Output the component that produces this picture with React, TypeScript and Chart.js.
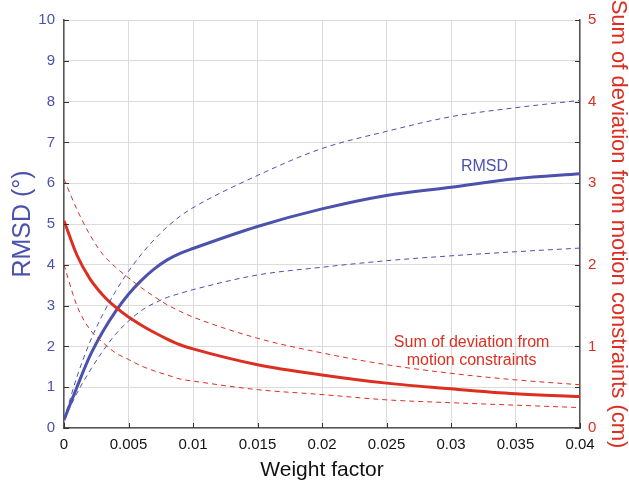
import { useEffect, useRef } from "react";
import { Chart, registerables } from "chart.js";

Chart.register(...registerables);

const weights = [0, 0.001, 0.002, 0.003, 0.004, 0.005, 0.006, 0.007, 0.008, 0.009, 0.01, 0.015, 0.02, 0.025, 0.03, 0.035, 0.04];
const rmsdMean = [0.2, 1.0, 1.76, 2.36, 2.86, 3.28, 3.62, 3.9, 4.12, 4.28, 4.4, 4.94, 5.37, 5.7, 5.9, 6.11, 6.23];
const rmsdUpper = [0.2, 1.25, 2.1, 2.78, 3.35, 3.84, 4.26, 4.62, 4.93, 5.19, 5.4, 6.19, 6.85, 7.27, 7.63, 7.85, 8.03];
const rmsdLower = [0.2, 0.85, 1.4, 1.88, 2.3, 2.62, 2.88, 3.06, 3.2, 3.3, 3.39, 3.75, 3.94, 4.1, 4.22, 4.32, 4.41];
const devMean = [2.54, 2.12, 1.83, 1.63, 1.48, 1.36, 1.26, 1.17, 1.09, 1.02, 0.97, 0.776, 0.65, 0.55, 0.48, 0.42, 0.385];
const devUpper = [3.05, 2.68, 2.37, 2.13, 1.97, 1.84, 1.72, 1.61, 1.51, 1.43, 1.36, 1.1, 0.92, 0.776, 0.67, 0.59, 0.53];
const devLower = [2.0, 1.5, 1.21, 1.05, 0.92, 0.84, 0.76, 0.7, 0.65, 0.6, 0.575, 0.47, 0.41, 0.345, 0.31, 0.28, 0.25];

const xTicks = [0, 0.005, 0.01, 0.015, 0.02, 0.025, 0.03, 0.035, 0.04];
const xTickLabels = ["0", "0.005", "0.01", "0.015", "0.02", "0.025", "0.03", "0.035", "0.04"];
const leftTicks = [0, 1, 2, 3, 4, 5, 6, 7, 8, 9, 10];
const rightTicks = [0, 1, 2, 3, 4, 5];
const rightMinorTicks = [0, 0.5, 1, 1.5, 2, 2.5, 3, 3.5, 4, 4.5, 5];

const rmsdLabel = { lines: ["RMSD"], x: 0.0326, y: 6.4 };
const devLabel = { lines: ["Sum of deviation from", "motion constraints"], x: 0.0316, y: 1.05 };

const BLUE = "#4b51ad";
const RED = "#dc2f22";
const AXIS = "#555555";
const GRID = "#dcdcdc";
const FONT = "'Liberation Sans', Arial, Helvetica, sans-serif";

const pts = (ys: number[]) => weights.map((w, i) => ({ x: w, y: ys[i] }));

const innerTicks = {
  id: "innerTicks",
  afterDatasetsDraw(chart: any) {
    const { ctx, chartArea, scales } = chart;
    ctx.save();
    ctx.strokeStyle = "#333";
    ctx.lineWidth = 1;
    ctx.beginPath();
    for (const v of xTicks) {
      const px = Math.round(scales.x.getPixelForValue(v)) + 0.5;
      ctx.moveTo(px, chartArea.bottom);
      ctx.lineTo(px, chartArea.bottom - 5);
    }
    for (const v of leftTicks) {
      const py = Math.round(scales.yL.getPixelForValue(v)) + 0.5;
      ctx.moveTo(chartArea.left, py);
      ctx.lineTo(chartArea.left + 5, py);
    }
    for (const v of rightMinorTicks) {
      const py = Math.round(scales.yR.getPixelForValue(v)) + 0.5;
      ctx.moveTo(chartArea.right, py);
      ctx.lineTo(chartArea.right - 5, py);
    }
    ctx.stroke();
    ctx.restore();
  },
};

const labelsPlugin = {
  id: "curveLabels",
  afterDatasetsDraw(chart: any) {
    const { ctx, scales } = chart;
    ctx.save();
    ctx.font = `16px ${FONT}`;
    ctx.textAlign = "center";
    ctx.textBaseline = "middle";
    ctx.fillStyle = BLUE;
    const rx = scales.x.getPixelForValue(rmsdLabel.x);
    const ry = scales.yL.getPixelForValue(rmsdLabel.y);
    rmsdLabel.lines.forEach((t, i) => ctx.fillText(t, rx, ry + i * 18.5));
    ctx.fillStyle = RED;
    const dx = scales.x.getPixelForValue(devLabel.x);
    const dy = scales.yR.getPixelForValue(devLabel.y);
    devLabel.lines.forEach((t, i) => ctx.fillText(t, dx, dy + i * 18.5));
    ctx.restore();
  },
};

export default function App() {
  const ref = useRef<HTMLCanvasElement>(null);
  useEffect(() => {
    if (!ref.current) return;
    const solid = (data: number[], color: string, axis: string) => ({
      data: pts(data),
      borderColor: color,
      borderWidth: 3,
      pointRadius: 0,
      showLine: true,
      cubicInterpolationMode: "monotone" as const,
      yAxisID: axis,
      fill: false,
    });
    const dashed = (data: number[], color: string, axis: string) => ({
      ...solid(data, color, axis),
      borderWidth: 1,
      borderDash: [5, 4],
    });
    const chart = new Chart(ref.current, {
      type: "scatter",
      data: {
        datasets: [
          dashed(rmsdUpper, BLUE, "yL"),
          dashed(rmsdLower, BLUE, "yL"),
          dashed(devUpper, RED, "yR"),
          dashed(devLower, RED, "yR"),
          solid(devMean, RED, "yR"),
          solid(rmsdMean, BLUE, "yL"),
        ] as any,
      },
      options: {
        animation: false,
        responsive: false,
        devicePixelRatio: 1,
        layout: { padding: { top: 20, left: 0, right: 0, bottom: 0 } },
        plugins: { legend: { display: false }, tooltip: { enabled: false } },
        scales: {
          x: {
            type: "linear",
            position: "bottom",
            min: 0,
            max: 0.04,
            afterBuildTicks: (s: any) => {
              s.ticks = xTicks.map((v) => ({ value: v }));
            },
            afterFit: (s: any) => {
              s.height = 56;
            },
            ticks: {
              color: "#111",
              font: { family: FONT, size: 15 },
              padding: 8,
              maxRotation: 0,
              autoSkip: false,
              callback: (v: any) => {
                const i = xTicks.findIndex((t) => Math.abs(t - Number(v)) < 1e-9);
                return i >= 0 ? xTickLabels[i] : "";
              },
            },
            grid: { color: GRID, drawTicks: false, lineWidth: 1 },
            border: { color: AXIS, width: 1.5 },
            title: {
              display: true,
              text: "Weight factor",
              color: "#111",
              font: { family: FONT, size: 21 },
              padding: { top: 0, bottom: 1 },
            },
          },
          yL: {
            type: "linear",
            position: "left",
            min: 0,
            max: 10,
            afterBuildTicks: (s: any) => {
              s.ticks = leftTicks.map((v) => ({ value: v }));
            },
            afterFit: (s: any) => {
              s.width = 64;
            },
            ticks: { color: BLUE, font: { family: FONT, size: 15 }, padding: 9 },
            grid: { color: GRID, drawTicks: false, lineWidth: 1 },
            border: { color: AXIS, width: 1.5 },
            title: {
              display: true,
              text: "RMSD (°)",
              color: BLUE,
              font: { family: FONT, size: 25 },
              padding: { top: 8, bottom: 0 },
            },
          },
          yR: {
            type: "linear",
            position: "right",
            min: 0,
            max: 5,
            afterBuildTicks: (s: any) => {
              s.ticks = rightTicks.map((v) => ({ value: v }));
            },
            afterFit: (s: any) => {
              s.width = 49;
            },
            ticks: { color: RED, font: { family: FONT, size: 15 }, padding: 8 },
            grid: { display: true, drawOnChartArea: false, drawTicks: false },
            border: { color: AXIS, width: 1.5 },
            title: {
              display: true,
              text: "Sum of deviation from motion constraints (cm)",
              color: RED,
              font: { family: FONT, size: 22, lineHeight: 1 },
              padding: { top: 0, bottom: 0 },
            },
          },
        },
      },
      plugins: [innerTicks, labelsPlugin],
    });
    return () => chart.destroy();
  }, []);
  return (
    <div style={{ position: "absolute", left: 0, top: 0, width: 629, height: 484, background: "#fff" }}>
      <canvas ref={ref} width={629} height={484} style={{ display: "block" }} />
    </div>
  );
}
